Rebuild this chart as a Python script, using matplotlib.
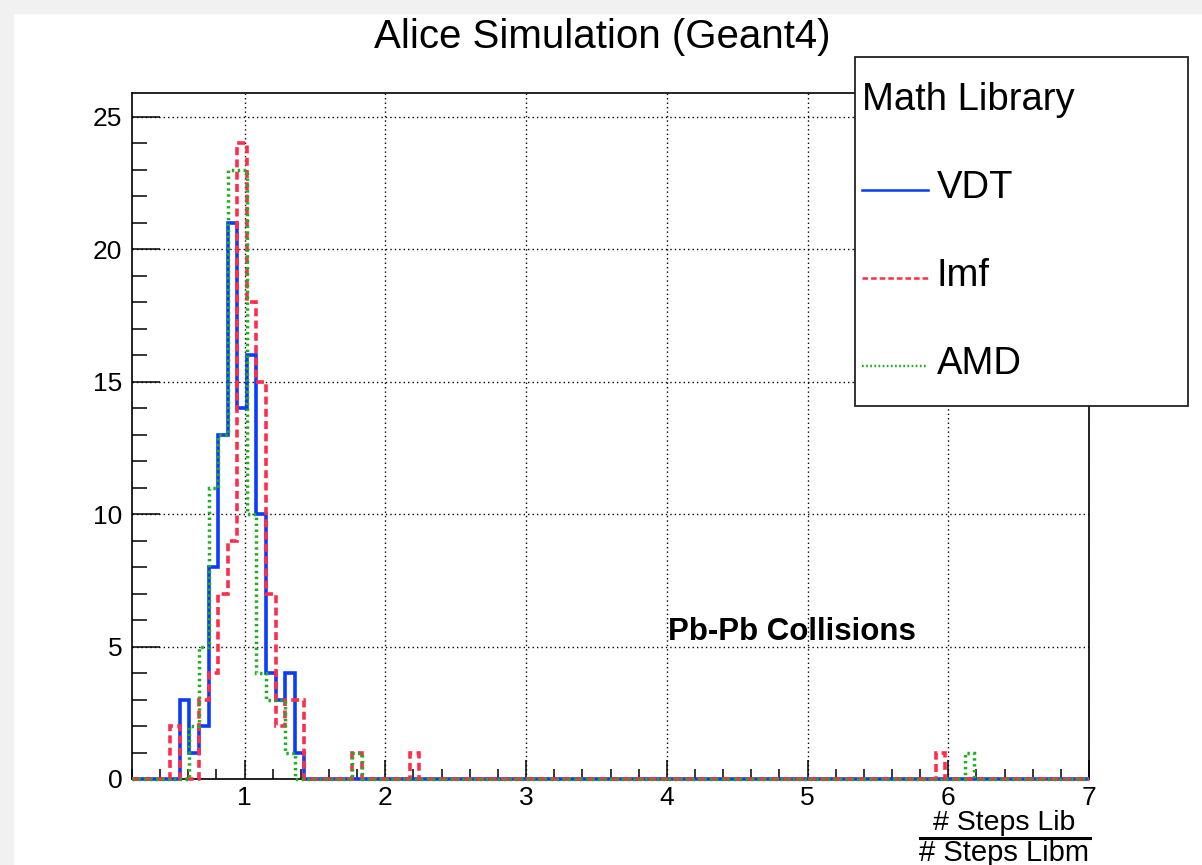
import matplotlib
matplotlib.use('Agg')
import matplotlib.pyplot as plt
from matplotlib.ticker import MultipleLocator
from matplotlib.lines import Line2D
from matplotlib.patches import Rectangle
import numpy as np

plt.rcParams['font.family'] = ['Liberation Sans', 'DejaVu Sans']

# histogram binning (# steps lib / # steps libm)
x_min, x_max, n_bins = 0.2, 7.0, 100

# counts per bin, starting at bin index *_first; isolated outlier bins listed apart
vdt_first = 5
vdt_counts = [3, 1, 2, 8, 13, 21, 14, 16, 10, 4, 3, 4, 1]
vdt_extra = []

imf_first = 4
imf_counts = [2, 0, 0, 3, 4, 7, 9, 24, 18, 15, 7, 2, 3, 3]
imf_extra = [23, 29, 84]

amd_first = 6
amd_counts = [2, 5, 11, 13, 23, 23, 10, 4, 3, 3, 1]
amd_extra = [23, 87]

labels = ['VDT', 'Imf', 'AMD']
colors = ['#0a3cff', '#ff2d4b', '#1fae1f']


def fill_hist(first, counts, extra):
    h = np.zeros(n_bins)
    h[first:first + len(counts)] = counts
    for b in extra:
        h[b] += 1
    return h


W, H = 1202, 865
fig = plt.figure(figsize=(W / 100, H / 100), dpi=100)

# light grey canvas border like the screenshot
fig.patches.append(Rectangle((0, 0), 13 / W, 1, transform=fig.transFigure,
                             color='#f1f1f1', zorder=0))
fig.patches.append(Rectangle((0, 1 - 13 / H), 1, 13 / H, transform=fig.transFigure,
                             color='#f1f1f1', zorder=0))

ax = fig.add_axes([132 / W, 1 - 779 / H, (1089 - 132) / W, (779 - 93) / H])

edges = np.linspace(x_min, x_max, n_bins + 1)
hists = [fill_hist(vdt_first, vdt_counts, vdt_extra),
         fill_hist(imf_first, imf_counts, imf_extra),
         fill_hist(amd_first, amd_counts, amd_extra)]
styles = [dict(lw=2.6, ls='-'),
          dict(lw=2.6, ls=(0, (2.2, 1.2))),
          dict(lw=2.5, ls=(0, (0.7, 1.0)))]

for h, c, st in zip(hists, colors, styles):
    ax.stairs(h, edges, color=c, fill=False, clip_on=False, zorder=3, **st)

ax.set_xlim(x_min, x_max)
ax.set_ylim(0, 25.9)

ax.xaxis.set_major_locator(MultipleLocator(1))
ax.xaxis.set_minor_locator(MultipleLocator(0.2))
ax.yaxis.set_major_locator(MultipleLocator(5))
ax.yaxis.set_minor_locator(MultipleLocator(1))
ax.tick_params(axis='x', which='major', direction='in', length=13.5, width=1.1,
               labelsize=19, pad=5)
ax.tick_params(axis='x', which='minor', direction='in', length=7, width=1.1)
ax.tick_params(axis='y', which='major', direction='in', length=20, width=1.1,
               labelsize=19, pad=7)
ax.tick_params(axis='y', which='minor', direction='in', length=11, width=1.1)
for sp in ax.spines.values():
    sp.set_linewidth(1.2)

ax.grid(True, which='major', color='black', linestyle=(0, (1, 2.2)), linewidth=1.0)
ax.set_axisbelow(True)

# title
fig.text(602 / W, 1 - 37 / H, 'Alice Simulation (Geant4)', ha='center', va='center',
         fontsize=29)

# annotation
ax.text(4.01, 5.55, 'Pb-Pb Collisions', fontsize=22.5, fontweight='bold',
        ha='left', va='center')

# x-axis label as a fraction
fig.text(1004 / W, 1 - 823 / H, '# Steps Lib', ha='center', va='center', fontsize=20.5)
fig.text(1004 / W, 1 - 853 / H, '# Steps Libm', ha='center', va='center', fontsize=21)
fig.lines.append(Line2D([920 / W, 1090 / W], [1 - 838 / H, 1 - 838 / H],
                        transform=fig.transFigure, color='black', lw=2.2))

# legend box (ROOT TLegend style)
lx0, ly0, lx1, ly1 = 855, 57, 1188, 406
fig.patches.append(Rectangle((lx0 / W, 1 - ly1 / H), (lx1 - lx0) / W, (ly1 - ly0) / H,
                             transform=fig.transFigure, facecolor='white',
                             edgecolor='#222222', lw=1.3, zorder=5))
fig.text(862 / W, 1 - 100 / H, 'Math Library', ha='left', va='center', fontsize=27.5,
         zorder=6)
entry_y = [190, 278, 366]
for lab, c, st, yy in zip(labels, colors, styles, entry_y):
    fig.lines.append(Line2D([862 / W, 928 / W], [1 - yy / H, 1 - yy / H],
                            transform=fig.transFigure, color=c, zorder=6,
                            lw=st['lw'] * 0.7, ls=st['ls']))
    fig.text(937 / W, 1 - (yy - 2) / H, lab, ha='left', va='center', fontsize=27.5,
             zorder=6)

fig.savefig('out.png', dpi=100)
